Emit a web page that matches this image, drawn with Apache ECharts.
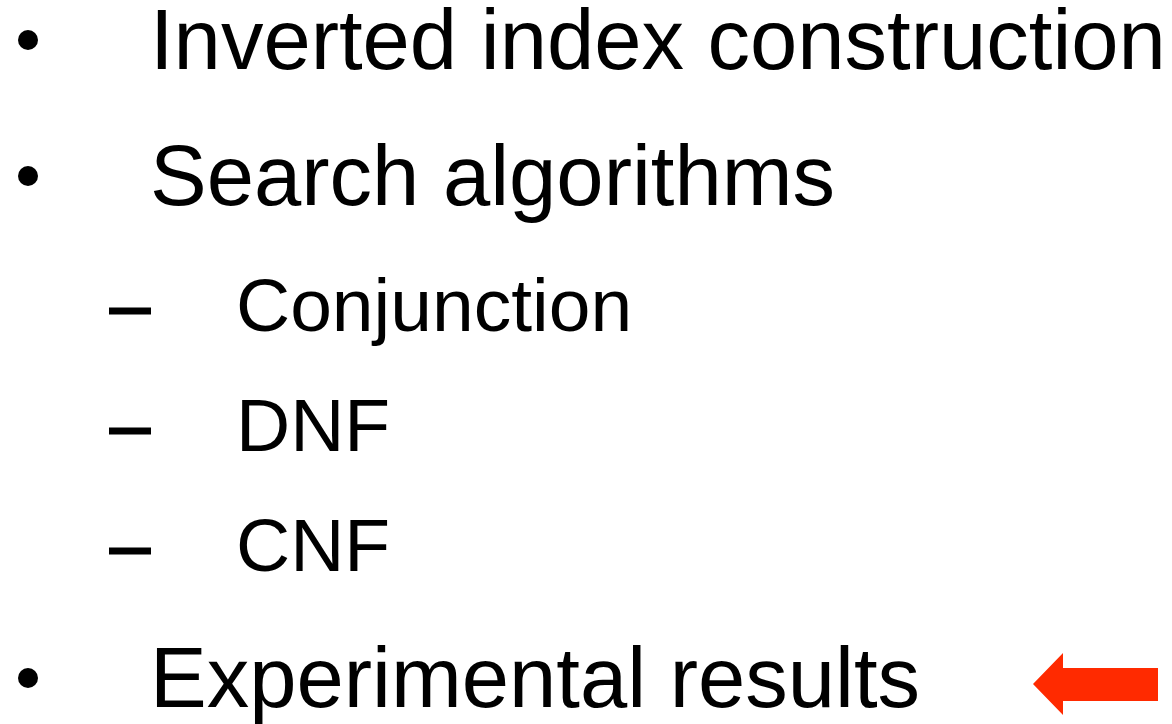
<!DOCTYPE html>
<html>
<head>
<meta charset="utf-8">
<script src="https://cdn.jsdelivr.net/npm/echarts@6/dist/echarts.min.js"></script>
<style>
  html, body { margin: 0; padding: 0; background: #fff; }
  #main { width: 1172px; height: 724px; }
</style>
</head>
<body>
<div id="main"></div>
<script>
// outline items and their indent level (0 = bullet, 1 = dash)
const items = ['Inverted index construction', 'Search algorithms', 'Conjunction', 'DNF', 'CNF', 'Experimental results'];
const levels = [0, 0, 1, 1, 1, 0];
const current = 5; // item pointed at by the arrow

const W = 1172, H = 724;
const fontSize = [85, 75];
const textX = [150, 236];

// baselines: a bit more room before a top level item
const baselines = [];
let y = 70;
items.forEach(function (t, i) {
  if (i > 0) {
    if (levels[i] === 0) y += 136;
    else if (levels[i - 1] === 0) y += 126;
    else y += 120;
  }
  baselines.push(y);
});

// label is centred on the point, so lift it from the baseline
const textData = items.map(function (t, i) {
  return {
    value: [textX[levels[i]], baselines[i] - fontSize[levels[i]] * 0.35 + 5],
    label: { formatter: t, fontSize: fontSize[levels[i]] }
  };
});
const bulletData = [], dashData = [];
items.forEach(function (t, i) {
  if (levels[i] === 0) bulletData.push([28, baselines[i] - 30]);
  else dashData.push([130, baselines[i] - 21]);
});
const arrowData = [[W - 14 - 62.5, baselines[current] - 24]];

const chart = echarts.init(document.getElementById('main'));
chart.setOption({
  animation: false,
  backgroundColor: '#fff',
  grid: { left: 0, right: 0, top: 0, bottom: 0 },
  xAxis: { type: 'value', min: 0, max: W, show: false },
  yAxis: { type: 'value', min: 0, max: H, inverse: true, show: false },
  series: [
    {
      type: 'scatter',
      symbolSize: 0,
      itemStyle: { opacity: 1 },
      data: textData,
      label: {
        show: true,
        position: 'inside',
        align: 'left',
        verticalAlign: 'middle',
        color: '#000',
        fontFamily: 'Liberation Sans'
      }
    },
    {
      type: 'scatter',
      symbol: 'circle',
      symbolSize: 20,
      itemStyle: { color: '#000', opacity: 1 },
      data: bulletData
    },
    {
      type: 'scatter',
      symbol: 'rect',
      symbolSize: [42, 7],
      itemStyle: { color: '#000', opacity: 1 },
      data: dashData
    },
    {
      type: 'scatter',
      symbol: 'path://M0,31 L30,0 L30,15 L125,15 L125,48 L30,48 L30,62 Z',
      symbolSize: [125, 62],
      itemStyle: { color: '#ff2a00', opacity: 1 },
      data: arrowData
    }
  ]
});
</script>
</body>
</html>
